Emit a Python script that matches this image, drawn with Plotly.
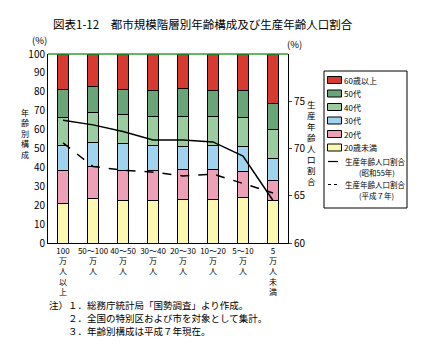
import plotly.graph_objects as go

categories = ["100<br>万<br>人<br>以<br>上", "50～100<br>万<br>人", "40～50<br>万<br>人", "30～40<br>万<br>人",
              "20～30<br>万<br>人", "10～20<br>万<br>人", "5～10<br>万<br>人", "5<br>万<br>人<br>未<br>満"]

under20 = [20.7, 23.4, 22.3, 22.5, 23.0, 23.2, 23.9, 22.7]
age20s = [17.6, 17.0, 16.3, 15.6, 16.0, 15.9, 14.0, 10.6]
age30s = [13.4, 12.9, 14.0, 13.6, 12.2, 12.5, 12.9, 11.5]
age40s = [14.9, 15.6, 15.4, 15.3, 15.9, 15.2, 15.8, 15.1]
age50s = [14.4, 14.0, 13.3, 13.8, 14.7, 14.0, 14.2, 14.1]
over60 = [19.0, 17.1, 18.7, 19.2, 18.2, 19.2, 19.2, 26.0]

working_s55 = [73.0, 72.5, 71.8, 70.9, 70.9, 70.7, 69.2, 64.5]
working_h7 = [70.6, 68.1, 67.7, 67.5, 67.1, 67.3, 66.3, 65.3]

series = [
    ("20歳未満", under20, "#fdf8b0"),
    ("20代", age20s, "#eea0b8"),
    ("30代", age30s, "#9fd3ee"),
    ("40代", age40s, "#9acca0"),
    ("50代", age50s, "#6aa57a"),
    ("60歳以上", over60, "#d83a30"),
]
line_names = ["生産年齢人口割合", "生産年齢人口割合"]
line_sub = ["(昭和55年)", "(平成７年)"]

FONT = "Noto Sans CJK JP"
L, T, W, H = 48, 54, 240, 189


def px(x):
    return (x - L) / W


def py(y):
    return 1 - (y - T) / H


fig = go.Figure()
for name, vals, col in series:
    fig.add_trace(go.Bar(x=categories, y=vals, name=name,
                         marker=dict(color=col, line=dict(color="black", width=1)),
                         width=0.38))

fig.add_trace(go.Scatter(x=categories, y=working_s55, yaxis="y2", mode="lines",
                         name=line_names[0] + line_sub[0], line=dict(color="black", width=1.5)))
fig.add_trace(go.Scatter(x=categories, y=working_h7, yaxis="y2", mode="lines",
                         name=line_names[1] + line_sub[1], line=dict(color="black", width=1.5, dash="dash")))

shapes = [dict(type="line", xref="paper", yref="paper", x0=0, x1=1, y0=1, y1=1,
               line=dict(color="#30a030", width=1.5))]
ann = []


def text(t, x, y, size, xanchor="left", yanchor="middle", align="left"):
    ann.append(dict(text=t, xref="paper", yref="paper", x=px(x), y=py(y), xanchor=xanchor,
                    yanchor=yanchor, showarrow=False, align=align, borderpad=0,
                    font=dict(size=size, family=FONT, color="black")))


# legend drawn manually (box, swatches, labels)
shapes.append(dict(type="rect", xref="paper", yref="paper", x0=px(324), x1=px(407), y0=py(71), y1=py(208),
                   line=dict(color="black", width=1), fillcolor="white", layer="below"))
rows = [80, 93.5, 107, 120.5, 134, 147.5]
for (name, _, col), ry in zip(reversed(series), rows):
    shapes.append(dict(type="rect", xref="paper", yref="paper", x0=px(327.5), x1=px(341.5),
                       y0=py(ry - 3.5), y1=py(ry + 3.5), fillcolor=col, line=dict(color="black", width=1)))
    text(name, 343, ry, 8)
for i, (ry, dash) in enumerate([(161.5, "solid"), (184.5, "dash")]):
    shapes.append(dict(type="line", xref="paper", yref="paper", x0=px(328), x1=px(338), y0=py(ry), y1=py(ry),
                       line=dict(color="black", width=1.2, dash="dot" if dash == "dash" else "solid")))
    text(line_names[i], 344, ry, 7.5)
    text(line_sub[i], 358, ry + 10.5, 7.5)

text("図表1-12　都市規模階層別年齢構成及び生産年齢人口割合", 52, 24, 11.5)
text("(%)", 31, 40, 9.5)
text("(%)", 286, 44, 9.5)
text("<br>".join("年齢別構成"), 25, 106, 8, xanchor="center", yanchor="top", align="center")
text("<br>".join("生産年齢人口割合"), 311, 97, 8.5, xanchor="center", yanchor="top", align="center")
text("注）１．総務庁統計局「国勢調査」より作成。", 48, 305, 9.5)
text("２．全国の特別区および市を対象として集計。", 67, 318, 9.5)
text("３．年齢別構成は平成７年現在。", 67, 331, 9.5)

fig.update_layout(
    width=432, height=344,
    margin=dict(l=L, r=432 - L - W, t=T, b=344 - T - H, autoexpand=False),
    paper_bgcolor="white", plot_bgcolor="white",
    font=dict(family=FONT, size=10, color="black"),
    barmode="stack",
    showlegend=False,
    xaxis=dict(showline=True, linecolor="black", linewidth=1, ticks="", tickfont=dict(size=8), tickangle=0,
               automargin=False),
    yaxis=dict(range=[0, 100], dtick=10, showline=True, linecolor="black", linewidth=1, showgrid=False,
               ticks="", tickfont=dict(size=10), zeroline=False, automargin=False),
    yaxis2=dict(range=[60, 80], tickvals=[60, 65, 70, 75], overlaying="y", side="right", showline=True,
                linecolor="black", linewidth=1, showgrid=False, ticks="outside", ticklen=3,
                tickfont=dict(size=10), zeroline=False, automargin=False),
    shapes=shapes,
    annotations=ann,
)

fig.write_html("out.html")
